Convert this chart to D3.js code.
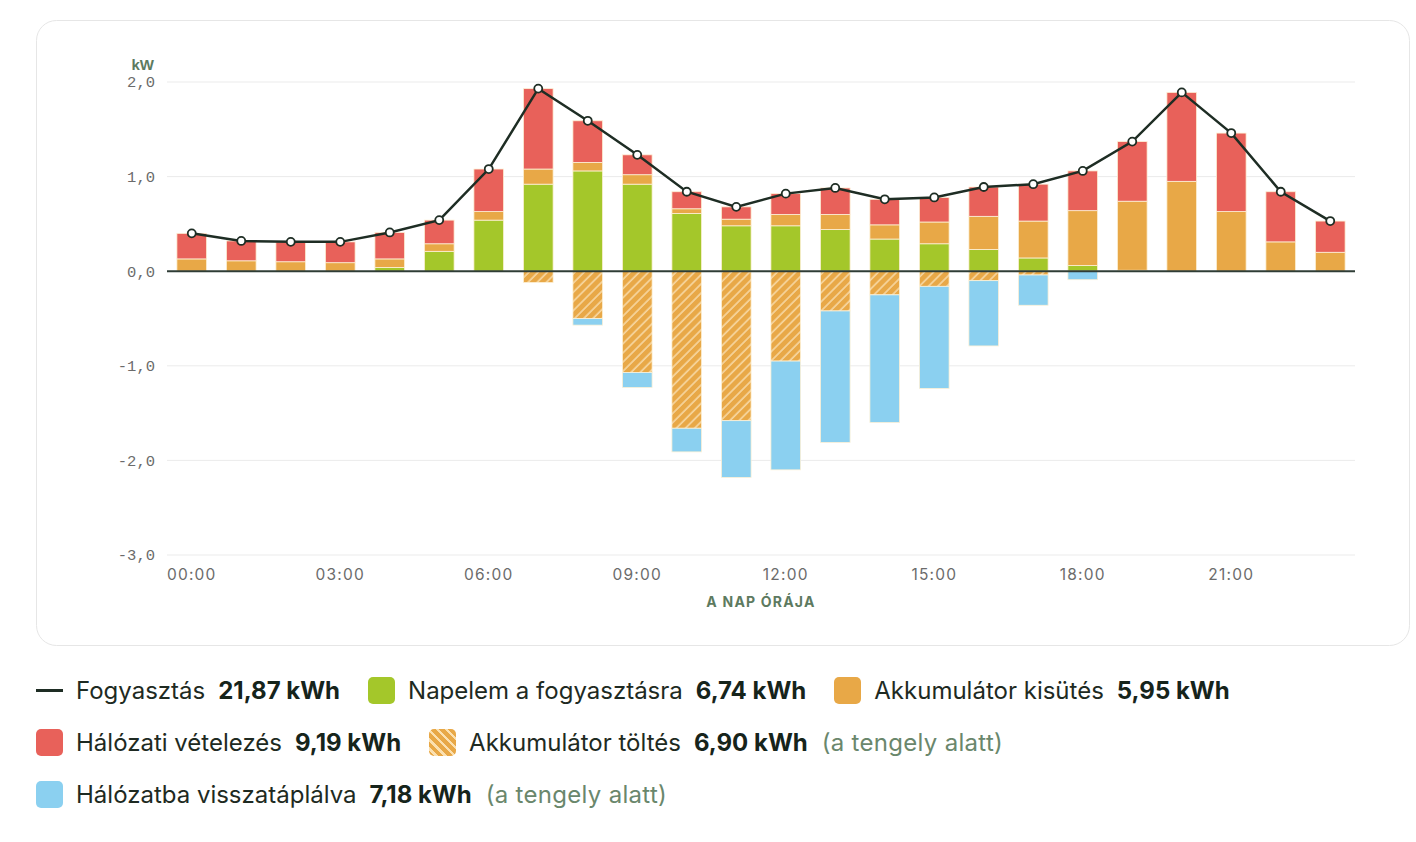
<!DOCTYPE html>
<html><head><meta charset="utf-8">
<script src="https://cdn.jsdelivr.net/npm/d3@7"></script>
<style>
body{margin:0;background:#fff;width:1416px;height:842px;overflow:hidden;font-family:Inter,"Noto Sans",sans-serif;}
#chart{position:absolute;left:0;top:0;}
#legend{position:absolute;left:36px;top:677px;width:1370px;display:flex;flex-wrap:wrap;column-gap:28px;row-gap:25px;}
.item{display:flex;align-items:center;height:27px;font-size:24px;color:#1e2a22;white-space:nowrap;}
.sw{width:27px;height:27px;border-radius:5px;margin-right:13px;flex:none;}
.ln{width:27px;height:3px;background:#1e2d24;margin-right:13px;}
.val{font-weight:700;margin-left:13px;color:#16241b;}
.note{margin-left:14px;color:#6a876c;letter-spacing:0.3px;}
</style></head><body>
<svg id="chart" width="1416" height="660"></svg>
<div id="legend"></div>
<script>
const hours = d3.range(24);
const hourLabels = ["00:00","03:00","06:00","09:00","12:00","15:00","18:00","21:00"];
const consumption = [0.40,0.32,0.31,0.31,0.41,0.54,1.08,1.93,1.59,1.23,0.84,0.68,0.82,0.88,0.76,0.78,0.89,0.92,1.06,1.37,1.89,1.46,0.84,0.53];
const solar      = [0,0,0,0,0.04,0.21,0.54,0.92,1.06,0.92,0.61,0.48,0.48,0.44,0.34,0.29,0.23,0.14,0.06,0.01,0,0,0,0];
const discharge  = [0.13,0.11,0.10,0.09,0.09,0.08,0.09,0.16,0.09,0.10,0.05,0.07,0.12,0.16,0.15,0.23,0.35,0.39,0.58,0.73,0.95,0.63,0.31,0.20];
const gridImport = [0.27,0.21,0.21,0.22,0.28,0.25,0.45,0.85,0.44,0.21,0.18,0.13,0.22,0.28,0.27,0.26,0.31,0.39,0.42,0.63,0.94,0.83,0.53,0.33];
const charge     = [0,0,0,0,0,0,0,0.12,0.50,1.07,1.66,1.58,0.95,0.42,0.25,0.16,0.10,0.04,0,0,0,0,0,0];
const feedIn     = [0,0,0,0,0,0,0,0,0.07,0.16,0.25,0.60,1.15,1.39,1.35,1.08,0.69,0.32,0.09,0,0,0,0,0];
const yTicks = [2,1,0,-1,-2,-3];
const legendItems = [
  {type:"line", label:"Fogyasztás", value:"21,87 kWh"},
  {type:"sw", color:"#a4c72a", label:"Napelem a fogyasztásra", value:"6,74 kWh"},
  {type:"sw", color:"#e8a847", label:"Akkumulátor kisütés", value:"5,95 kWh"},
  {type:"sw", color:"#e8615a", label:"Hálózati vételezés", value:"9,19 kWh"},
  {type:"hatch", label:"Akkumulátor töltés", value:"6,90 kWh", note:"(a tengely alatt)"},
  {type:"sw", color:"#8bd0f0", label:"Hálózatba visszatáplálva", value:"7,18 kWh", note:"(a tengely alatt)"}
];
const C = {green:"#a4c72a", orange:"#e8a847", red:"#e8615a", blue:"#8bd0f0", line:"#1e2d24"};

const svg = d3.select("#chart");
svg.append("rect").attr("x",36.5).attr("y",20.5).attr("width",1373).attr("height",625)
  .attr("rx",20).attr("fill","#fff").attr("stroke","#e6e6e6");

const defs = svg.append("defs");
const pat = defs.append("pattern").attr("id","hatch").attr("patternUnits","userSpaceOnUse")
  .attr("width",6.5).attr("height",6.5).attr("patternTransform","rotate(45)");
pat.append("rect").attr("width",6.5).attr("height",6.5).attr("fill",C.orange);
pat.append("line").attr("x1",1).attr("x2",1).attr("y1",0).attr("y2",6.5).attr("stroke","#fbe3b8").attr("stroke-width",1.3);

const x = d3.scaleBand().domain(hours).range([167,1355]).paddingInner(0.4).paddingOuter(0.2);
const y = d3.scaleLinear().domain([-3,2]).range([555,82]);

// grid
svg.append("g").selectAll("line").data(yTicks.filter(d=>d!==0)).join("line")
  .attr("x1",167).attr("x2",1355).attr("y1",d=>y(d)).attr("y2",d=>y(d))
  .attr("stroke","#ebebeb").attr("stroke-width",1);

// y axis labels
const yAxis = svg.append("g").attr("transform","translate(167,0)")
  .call(d3.axisLeft(y).tickValues(yTicks).tickSize(0).tickPadding(12)
    .tickFormat(d=>d3.format(".1f")(d).replace(".",",").replace("−","-")));
yAxis.select(".domain").remove();
yAxis.selectAll("text").attr("font-family","'Liberation Mono','DejaVu Sans Mono',monospace")
  .attr("font-size",15.5).attr("fill","#6b6b6b");
svg.append("text").attr("x",154).attr("y",70).attr("text-anchor","end")
  .attr("font-family","'Liberation Sans',Arial,sans-serif").attr("font-weight",700).attr("font-size",15)
  .attr("fill","#5d7a60").text("kW");

// x axis labels
const xAxis = svg.append("g").attr("transform","translate(0,563)")
  .call(d3.axisBottom(x).tickValues(hours.filter(h=>h%3===0)).tickSize(0).tickPadding(6)
    .tickFormat(h=>hourLabels[h/3]));
xAxis.select(".domain").remove();
xAxis.selectAll("text").attr("font-family","Inter,sans-serif").attr("font-size",15.5)
  .attr("letter-spacing",1.2).attr("fill","#6b6b6b");
svg.append("text").attr("x",761).attr("y",607).attr("text-anchor","middle")
  .attr("font-family","Inter,sans-serif").attr("font-weight",700).attr("font-size",14)
  .attr("letter-spacing",1.2).attr("fill","#5d7a60").text("A NAP ÓRÁJA");

// stacked bars
const rows = hours.map(h=>({h, solar:solar[h], discharge:discharge[h], gridImport:gridImport[h], charge:-charge[h], feedIn:-feedIn[h]}));
const stack = d3.stack().keys(["solar","discharge","gridImport","charge","feedIn"]).offset(d3.stackOffsetDiverging);
const series = stack(rows);
const fills = {solar:C.green, discharge:C.orange, gridImport:C.red, charge:"url(#hatch)", feedIn:C.blue};
svg.append("g").selectAll("g").data(series).join("g").attr("fill",d=>fills[d.key])
  .selectAll("rect").data(d=>d.filter(p=>p[1]-p[0]>0)).join("rect")
  .attr("x",d=>x(d.data.h)).attr("width",x.bandwidth())
  .attr("y",d=>y(d[1])).attr("height",d=>y(d[0])-y(d[1]))
  .attr("stroke","#fdf1d6").attr("stroke-width",0.8);

// zero line
svg.append("line").attr("x1",167).attr("x2",1355).attr("y1",y(0)).attr("y2",y(0))
  .attr("stroke","#2f3d36").attr("stroke-width",2);

// consumption line
const cx = h=>x(h)+x.bandwidth()/2;
svg.append("path").datum(consumption).attr("fill","none").attr("stroke",C.line).attr("stroke-width",2.5)
  .attr("d",d3.line().x((d,i)=>cx(i)).y(d=>y(d)));
svg.append("g").selectAll("circle").data(consumption).join("circle")
  .attr("cx",(d,i)=>cx(i)).attr("cy",d=>y(d)).attr("r",4)
  .attr("fill","#fff").attr("stroke",C.line).attr("stroke-width",1.8);

// legend
const lg = d3.select("#legend").selectAll(".item").data(legendItems).join("div").attr("class","item");
lg.each(function(d){
  const el = d3.select(this);
  if(d.type==="line") el.append("div").attr("class","ln");
  else if(d.type==="hatch") el.append("div").attr("class","sw")
    .style("background","repeating-linear-gradient(45deg,#e8a847 0 4px,#fbe0b0 4px 6.5px)");
  else el.append("div").attr("class","sw").style("background",d.color);
  el.append("span").text(d.label);
  el.append("span").attr("class","val").text(d.value);
  if(d.note) el.append("span").attr("class","note").text(d.note);
});
</script>
</body></html>
